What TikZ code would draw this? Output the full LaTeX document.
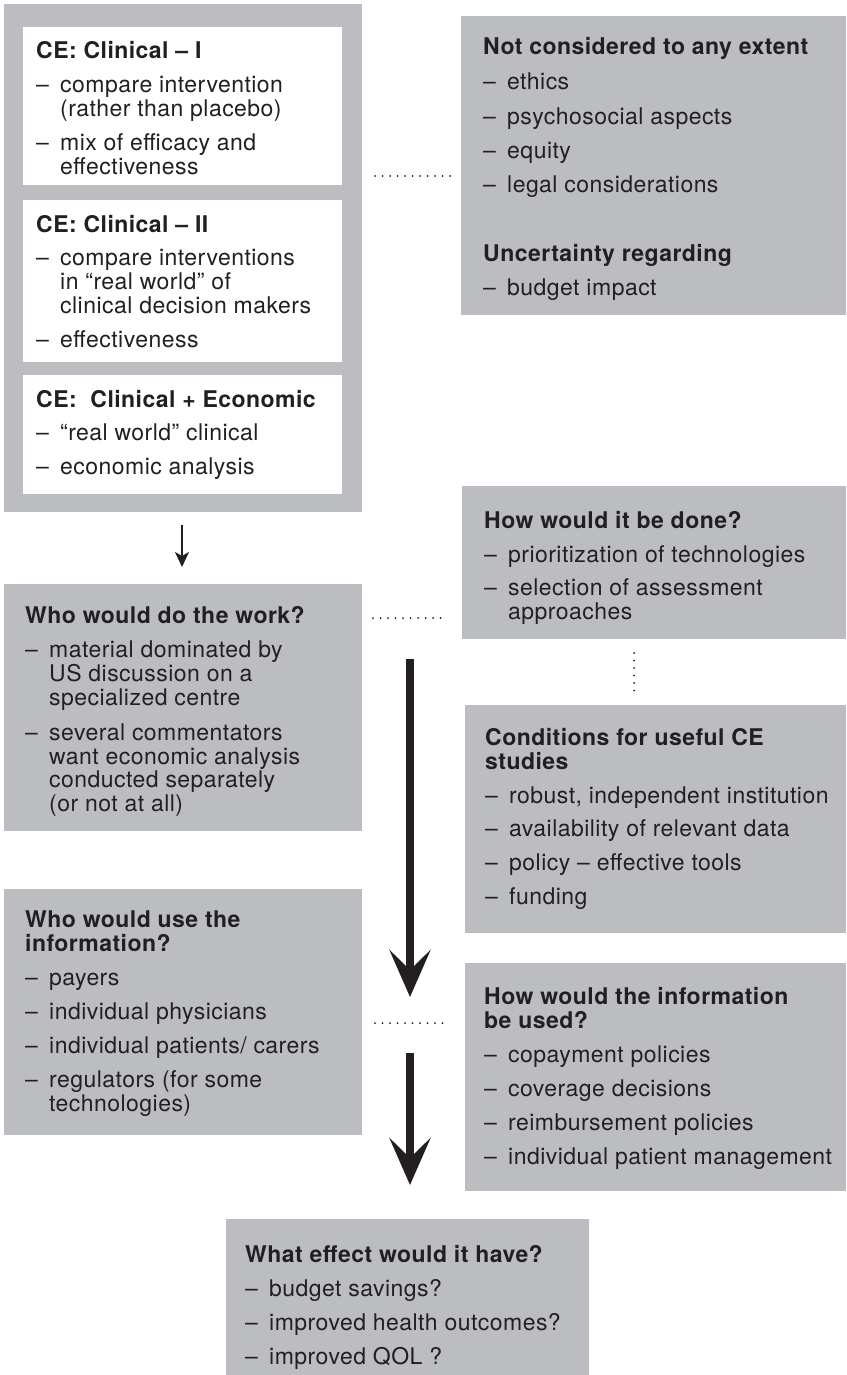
\documentclass[tikz,border=0pt]{standalone}
\usepackage{fontspec}
\setmainfont{TeX Gyre Heros}[LetterSpace=2]
\usetikzlibrary{arrows.meta}
\definecolor{boxgray}{HTML}{BCBDC1}
\definecolor{ink}{HTML}{231F20}
% heading row spanning both columns, bullet marker
\newcommand\hd[1]{\multicolumn{2}{@{}l@{}}{\bfseries #1}}
\newcommand\bl{\makebox[24pt][l]{–}}
\begin{document}
\begin{tikzpicture}[x=1pt,y=-1pt,
  gbox/.style={fill=boxgray, draw=none, inner sep=0pt, anchor=north west},
  wbox/.style={fill=white, draw=none, inner sep=0pt, anchor=north west},
  txt/.style={anchor=base west, inner sep=0pt, text=ink, align=left,
              font=\fontsize{23}{23.5}\selectfont},
  dotline/.style={ink, line width=2pt, line cap=round, dash pattern=on 0pt off 7.5pt},
  bigarrow/.style={ink, line width=7.5pt, -{Stealth[length=47pt,width=41pt,inset=20pt]}},
  smallarrow/.style={ink, line width=2pt, -{Stealth[length=15pt,width=14pt,inset=4pt]}},
]
\useasboundingbox (0,0) rectangle (846,1375);

% ---- left column: cost-effectiveness variants ----
\node[gbox, minimum width=358pt, minimum height=508pt] (outer) at (4,4) {};
\node[wbox, minimum width=319pt, minimum height=158pt] (ce1) at (23,27) {};
\node[wbox, minimum width=319pt, minimum height=162pt] (ce2) at (23,200) {};
\node[wbox, minimum width=319pt, minimum height=119pt] (ce3) at (23,375) {};

\node[txt] (ce1t) at (36,59) {\begin{tabular}[t]{@{}l@{}l@{}}
\hd{CE: Clinical – I}\\[10pt]
\bl & compare intervention\\
    & (rather than placebo)\\[10pt]
\bl & mix of efficacy and\\
    & effectiveness
\end{tabular}};

\node[txt] (ce2t) at (36,232) {\begin{tabular}[t]{@{}l@{}l@{}}
\hd{CE: Clinical – II}\\[10pt]
\bl & compare interventions\\
    & in “real world” of\\
    & clinical decision makers\\[10pt]
\bl & effectiveness
\end{tabular}};

\node[txt] (ce3t) at (36,407) {\begin{tabular}[t]{@{}l@{}l@{}}
\hd{CE:\ \ Clinical + Economic}\\[10pt]
\bl & “real world” clinical\\[10pt]
\bl & economic analysis
\end{tabular}};

% ---- right column, top ----
\node[gbox, minimum width=385pt, minimum height=299pt] (notc) at (461,16) {};
\node[txt] (notct) at (483,55) {\begin{tabular}[t]{@{}l@{}l@{}}
\hd{Not considered to any extent}\\[11pt]
\bl & ethics\\[10.5pt]
\bl & psychosocial aspects\\[10.5pt]
\bl & equity\\[10.5pt]
\bl & legal considerations\\[44.5pt]
\hd{Uncertainty regarding}\\[10.5pt]
\bl & budget impact
\end{tabular}};

\node[gbox, minimum width=384pt, minimum height=153pt] (done) at (462,486) {};
\node[txt] (donet) at (484,528) {\begin{tabular}[t]{@{}l@{}l@{}}
\hd{How would it be done?}\\[11pt]
\bl & prioritization of technologies\\[9pt]
\bl & selection of assessment\\
    & approaches
\end{tabular}};

% ---- left column, middle and lower ----
\node[gbox, minimum width=358pt, minimum height=247pt] (work) at (4,584) {};
\node[txt] (workt) at (25,623) {\begin{tabular}[t]{@{}l@{}l@{}}
\hd{Who would do the work?}\\[10.5pt]
\bl & material dominated by\\
    & US discussion on a\\
    & specialized centre\\[11pt]
\bl & several commentators\\
    & want economic analysis\\
    & conducted separately\\
    & (or not at all)
\end{tabular}};

\node[gbox, minimum width=381pt, minimum height=228pt] (cond) at (465,705) {};
\node[txt] (condt) at (485,745) {\begin{tabular}[t]{@{}l@{}l@{}}
\hd{Conditions for useful CE}\\
\hd{studies}\\[10pt]
\bl & robust, independent institution\\[10pt]
\bl & availability of relevant data\\[10pt]
\bl & policy – effective tools\\[10pt]
\bl & funding
\end{tabular}};

\node[gbox, minimum width=358pt, minimum height=246pt] (use) at (4,889) {};
\node[txt] (uset) at (25,927) {\begin{tabular}[t]{@{}l@{}l@{}}
\hd{Who would use the}\\
\hd{information?}\\[11pt]
\bl & payers\\[10pt]
\bl & individual physicians\\[10pt]
\bl & individual patients/ carers\\[10pt]
\bl & regulators (for some\\
    & technologies)
\end{tabular}};

\node[gbox, minimum width=381pt, minimum height=228pt] (used) at (465,963) {};
\node[txt] (usedt) at (484,1004) {\begin{tabular}[t]{@{}l@{}l@{}}
\hd{How would the information}\\
\hd{be used?}\\[11pt]
\bl & copayment policies\\[10pt]
\bl & coverage decisions\\[10pt]
\bl & reimbursement policies\\[10pt]
\bl & individual patient management
\end{tabular}};

\node[gbox, minimum width=363pt, minimum height=156pt] (effect) at (226,1219) {};
\node[txt] (effectt) at (245,1262) {\begin{tabular}[t]{@{}l@{}l@{}}
\hd{What effect would it have?}\\[10pt]
\bl & budget savings?\\[10pt]
\bl & improved health outcomes?\\[10pt]
\bl & improved QOL ?
\end{tabular}};

% ---- connector end points ----
\coordinate (s0) at (182,525);  \coordinate (s1) at (182,567);
\coordinate (b0) at (410,659);  \coordinate (b1) at (410,997);
\coordinate (c0) at (410,1053); \coordinate (c1) at (410,1185);
\coordinate (d1a) at (375,176);  \coordinate (d1b) at (451,176);
\coordinate (d2a) at (373,618);  \coordinate (d2b) at (447,618);
\coordinate (d3a) at (375,1023); \coordinate (d3b) at (450,1023);
\coordinate (dva) at (634,653);  \coordinate (dvb) at (634,692);

% ---- arrows ----
\draw[smallarrow] (s0) -- (s1);
\draw[bigarrow] (b0) -- (b1);
\draw[bigarrow] (c0) -- (c1);

% ---- dotted links ----
\draw[dotline] (d1a) -- (d1b);
\draw[dotline] (d2a) -- (d2b);
\draw[dotline] (d3a) -- (d3b);
\draw[dotline] (dva) -- (dvb);
\end{tikzpicture}
\end{document}
